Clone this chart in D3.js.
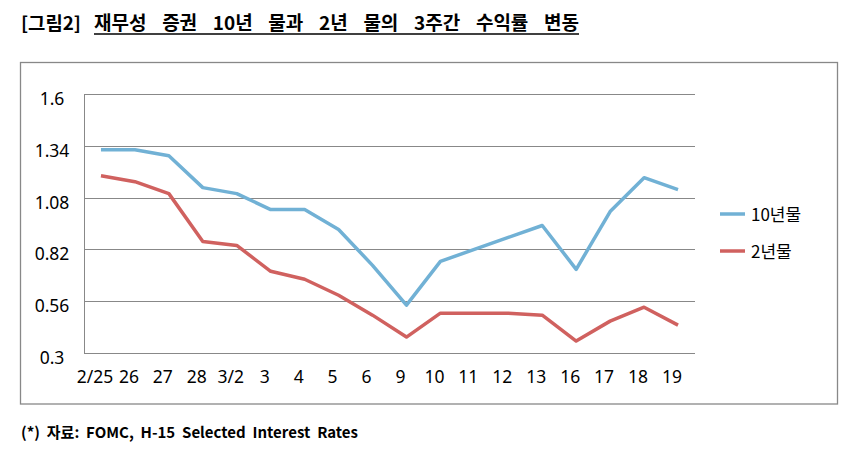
<!DOCTYPE html>
<html><head><meta charset="utf-8">
<script src="https://cdn.jsdelivr.net/npm/d3@7"></script>
<style>body{margin:0;background:#fff}svg{display:block}</style>
</head><body>
<svg id="c" width="863" height="459"></svg>
<script>
const categories = ["2/25","26","27","28","3/2","3","4","5","6","9","10","11","12","13","16","17","18","19"];
const yield10 = [1.32,1.32,1.29,1.13,1.10,1.02,1.02,0.92,0.74,0.54,0.76,0.82,0.88,0.94,0.72,1.01,1.18,1.12];
const yield2  = [1.19,1.16,1.10,0.86,0.84,0.71,0.67,0.59,0.49,0.38,0.50,0.50,0.50,0.49,0.36,0.46,0.53,0.44];
const yTicks = [0.3,0.56,0.82,1.08,1.34,1.6];
const seriesNames = ["10년물","2년물"];
const colors = ["#71b1d5","#d0615f"];

const svg = d3.select("#c");
const kr = "'Noto Sans CJK KR', 'Noto Sans', sans-serif";

function fitWords(sel, target){
  const n = sel.text().split(" ").length - 1;
  const w = sel.node().getComputedTextLength();
  if (n > 0) sel.attr("word-spacing", (target - w)/n);
}

// Title
svg.append("text").attr("x",21).attr("y",30).attr("font-family",kr).attr("font-weight","bold")
  .attr("font-size",18).attr("fill","#000").attr("textLength",60).attr("lengthAdjust","spacingAndGlyphs").text("[그림2]");
const t = svg.append("text").attr("x",94).attr("y",30).attr("font-family",kr).attr("font-weight","bold")
  .attr("font-size",19).attr("fill","#000")
  .text("재무성 증권 10년 물과 2년 물의 3주간 수익률 변동");
fitWords(t, 485);
svg.append("line").attr("x1",94).attr("x2",579).attr("y1",34).attr("y2",34).attr("stroke","#000").attr("stroke-width",1.5);

// Frame
svg.append("rect").attr("x",20.5).attr("y",62.5).attr("width",817).attr("height",341.5)
  .attr("fill","none").attr("stroke","#888").attr("stroke-width",1.3);

const x = d3.scaleBand().domain(categories).range([84,695]);
const y = d3.scaleLinear().domain([0.3,1.6]).range([353,94]);

// grid
svg.append("g").selectAll("line").data(yTicks).join("line")
  .attr("x1",84).attr("x2",695).attr("y1",d=>Math.round(y(d))+0.5).attr("y2",d=>Math.round(y(d))+0.5)
  .attr("stroke","#888").attr("stroke-width",1);
svg.append("line").attr("x1",84.5).attr("x2",84.5).attr("y1",94).attr("y2",353.5).attr("stroke","#888");

// y labels
svg.append("g").selectAll("text").data(yTicks).join("text")
  .attr("x",52).attr("y",d=>y(d)+11).attr("text-anchor","middle")
  .attr("font-family","'Noto Sans', sans-serif").attr("font-size",17.5).attr("fill","#000")
  .text(d=>String(d));

// x labels
svg.append("g").selectAll("text").data(categories).join("text")
  .attr("x",d=>x(d)+x.bandwidth()/2-6).attr("y",383).attr("text-anchor","middle")
  .attr("font-family","'Noto Sans', sans-serif").attr("font-size",17.5).attr("fill","#000")
  .text(d=>d);

// lines
const line = d3.line().x((d,i)=>x(categories[i])+x.bandwidth()/2).y(d=>y(d));
[yield10, yield2].forEach((s,k)=>{
  svg.append("path").datum(s).attr("d",line).attr("fill","none")
    .attr("stroke",colors[k]).attr("stroke-width",3.5).attr("stroke-linejoin","round");
});

// legend
const ly = [214, 251];
seriesNames.forEach((n,k)=>{
  svg.append("line").attr("x1",720).attr("x2",745).attr("y1",ly[k]).attr("y2",ly[k])
    .attr("stroke",colors[k]).attr("stroke-width",3.5);
  svg.append("text").attr("x",751).attr("y",ly[k]+7).attr("font-family",kr).attr("font-size",17)
    .attr("fill","#000").text(n);
});

// source
const s = svg.append("text").attr("x",21).attr("y",438).attr("font-family",kr).attr("font-weight","bold")
  .attr("font-size",15).attr("fill","#000")
  .text("(*) 자료: FOMC, H-15 Selected Interest Rates");
fitWords(s, 337);
</script>
</body></html>
